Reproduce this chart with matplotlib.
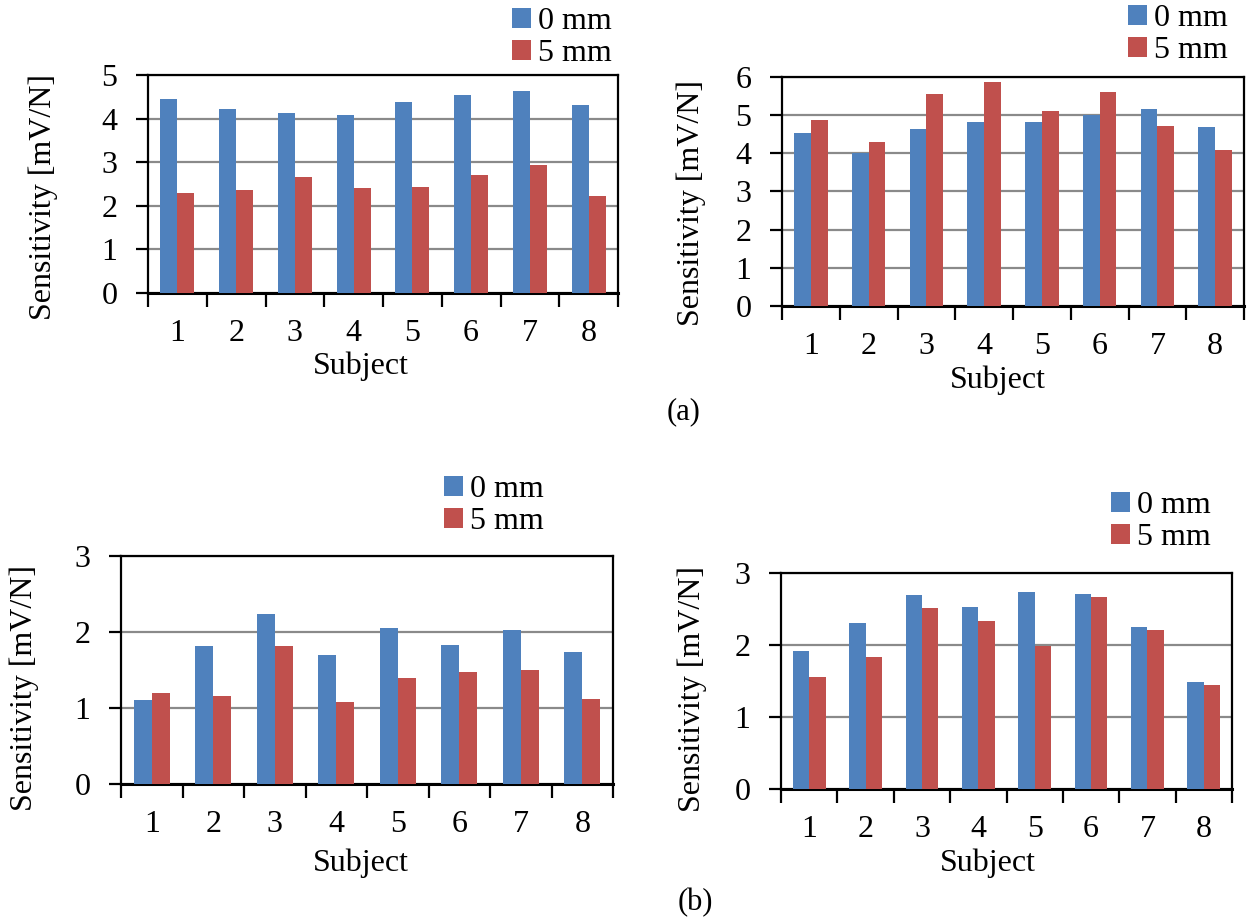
import matplotlib
matplotlib.use("Agg")
import matplotlib.pyplot as plt
import numpy as np

subjects = ["1", "2", "3", "4", "5", "6", "7", "8"]
series_labels = ["0 mm", "5 mm"]

a1_0mm = [4.45, 4.21, 4.13, 4.09, 4.37, 4.53, 4.63, 4.31]
a1_5mm = [2.30, 2.36, 2.66, 2.40, 2.43, 2.70, 2.93, 2.23]

a2_0mm = [4.54, 4.00, 4.64, 4.82, 4.82, 5.01, 5.17, 4.69]
a2_5mm = [4.87, 4.30, 5.55, 5.88, 5.11, 5.60, 4.71, 4.10]

b1_0mm = [1.10, 1.81, 2.24, 1.70, 2.05, 1.83, 2.02, 1.74]
b1_5mm = [1.20, 1.16, 1.82, 1.08, 1.40, 1.47, 1.50, 1.12]

b2_0mm = [1.92, 2.30, 2.69, 2.53, 2.73, 2.71, 2.25, 1.48]
b2_5mm = [1.55, 1.84, 2.51, 2.33, 1.99, 2.66, 2.21, 1.45]

ylims = [5, 6, 3, 3]

W, H = 1248, 922
plt.rcParams['font.family'] = ['Liberation Serif', 'DejaVu Serif']
FS = 23
BLUE = '#4F81BD'
RED = '#C0504D'
GRID = '#8a8a8a'

fig = plt.figure(figsize=(W / 100, H / 100), dpi=100)

def px_axes(l, r, t, b):
    return fig.add_axes([l / W, 1 - b / H, (r - l) / W, (b - t) / H])

panels = [
    dict(box=(148, 618, 75, 293), d=(a1_0mm, a1_5mm), ymax=ylims[0],
         leg=(512, 7), ylab=(43, 197), xlab=(361, 366)),
    dict(box=(782, 1244, 77, 306), d=(a2_0mm, a2_5mm), ymax=ylims[1],
         leg=(1128, 4), ylab=(691, 203), xlab=(998, 380)),
    dict(box=(121, 613, 556, 784), d=(b1_0mm, b1_5mm), ymax=ylims[2],
         leg=(444, 475), ylab=(24, 688), xlab=(361, 863)),
    dict(box=(781, 1232, 573, 789), d=(b2_0mm, b2_5mm), ymax=ylims[3],
         leg=(1111, 491), ylab=(692, 689), xlab=(988, 863)),
]

x = np.arange(len(subjects))
bw = 0.29
for p in panels:
    ax = px_axes(*p['box'])
    d0, d5 = p['d']
    b0 = ax.bar(x - bw / 2, d0, bw, color=BLUE, label=series_labels[0], zorder=3)
    b5 = ax.bar(x + bw / 2, d5, bw, color=RED, label=series_labels[1], zorder=3)
    ax.set_xlim(-0.5, len(subjects) - 0.5)
    ax.set_ylim(0, p['ymax'])
    ax.set_yticks(np.arange(0, p['ymax'] + 1, 1))
    ax.yaxis.grid(True, color=GRID, lw=1.6, zorder=0)
    ax.set_axisbelow(True)
    # major ticks at group boundaries, minor ticks carry labels
    ax.set_xticks(np.arange(-0.5, len(subjects), 1))
    ax.set_xticklabels([])
    ax.set_xticks(x, minor=True)
    ax.set_xticklabels(subjects, minor=True)
    ax.tick_params(axis='x', which='major', direction='out', length=10, width=1.6)
    ax.tick_params(axis='x', which='minor', length=0, pad=19, labelsize=FS)
    ax.tick_params(axis='y', direction='out', length=9, width=1.6, pad=13, labelsize=FS)
    for s in ax.spines.values():
        s.set_linewidth(1.6)
        s.set_color('black')
    ax.spines['bottom'].set_linewidth(2.2)
    lx, ly = p['leg']
    ax.legend(handles=[b0, b5], loc='upper left', bbox_to_anchor=(lx / W, 1 - ly / H),
              bbox_transform=fig.transFigure, frameon=False, fontsize=FS,
              borderpad=0, borderaxespad=0, handlelength=0.6, handleheight=0.6,
              handletextpad=0.2, labelspacing=0.1)
    fig.text(p['ylab'][0] / W, 1 - p['ylab'][1] / H, "Sensitivity [mV/N]",
             rotation=90, ha='center', va='center', fontsize=FS)
    fig.text(p['xlab'][0] / W, 1 - p['xlab'][1] / H, "Subject",
             ha='center', va='center', fontsize=FS)

fig.text(684 / W, 1 - 412 / H, "(a)", ha='center', va='center', fontsize=FS - 1)
fig.text(695 / W, 1 - 903 / H, "(b)", ha='center', va='center', fontsize=FS - 1)

fig.savefig("out.png", dpi=100)
